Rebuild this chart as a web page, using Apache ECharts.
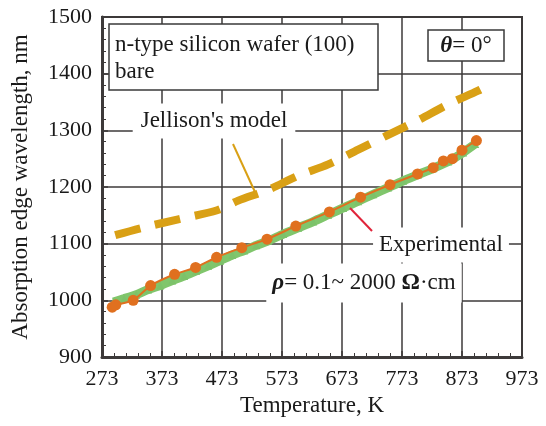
<!DOCTYPE html>
<html>
<head>
<meta charset="utf-8">
<script src="https://cdn.jsdelivr.net/npm/echarts@6/dist/echarts.min.js"></script>
<style>
  html, body { margin: 0; padding: 0; background: #fff; }
  #chart { width: 546px; height: 426px; }
</style>
</head>
<body>
<div id="chart"></div>
<script>
// Temperature axis runs 273 K .. 973 K; plotted as offset from 273 K so ticks land on 273, 373, ...
const T0 = 273;
const xTickLabels = ['273', '373', '473', '573', '673', '773', '873', '973'];
const yTickLabels = ['900', '1000', '1100', '1200', '1300', '1400', '1500'];

// Jellison's model: absorption edge wavelength (nm) vs temperature (K)
const modelTemp = [295, 340, 400, 465, 500, 550, 600, 650, 700, 750, 800, 850, 900, 918];
const modelWave = [1115, 1128, 1143, 1159, 1176, 1195, 1220, 1240, 1266, 1292, 1318, 1346, 1370, 1380];

// Experimental, orange circles
const expTempA = [290, 296, 325, 354, 394, 429, 464, 506, 548, 596, 652, 704, 753, 799, 825, 842, 857, 873, 897];
const expWaveA = [988, 992, 1000, 1026, 1046, 1058, 1076, 1093, 1108, 1131, 1156, 1182, 1204, 1223, 1234, 1246, 1250, 1265, 1282];

// Experimental, green triangles
const expTempB = [292, 310, 330, 350, 370, 390, 410, 430, 450, 470, 490, 510, 530, 550, 575, 600, 625, 650, 675, 700, 725, 750, 775, 800, 825, 850, 875, 895];
const expWaveB = [997, 1003, 1010, 1019, 1026, 1035, 1043, 1052, 1061, 1070, 1080, 1088, 1097, 1105, 1117, 1128, 1139, 1151, 1163, 1175, 1187, 1199, 1211, 1222, 1233, 1245, 1261, 1276];

const pair = (ts, vs) => ts.map((t, i) => [t - T0, vs[i]]);

const serif = '"Liberation Serif", "DejaVu Serif", serif';
const ink = '#1a1a1a';
const gridColor = '#3d3a3a';

const chart = echarts.init(document.getElementById('chart'), null, { renderer: 'canvas' });

chart.setOption({
  animation: false,
  backgroundColor: '#ffffff',
  grid: {
    left: 102, right: 24, top: 17, bottom: 69,
    show: true, borderColor: gridColor, borderWidth: 2, backgroundColor: 'transparent'
  },
  xAxis: {
    type: 'value', min: 0, max: 700, interval: 100,
    name: 'Temperature, K', nameLocation: 'middle', nameGap: 34,
    nameTextStyle: { fontFamily: serif, fontSize: 23, color: ink },
    axisLine: { show: true, lineStyle: { color: gridColor, width: 3 } },
    axisTick: { show: true, inside: true, length: 6, lineStyle: { color: gridColor, width: 1.5 } },
    minorTick: { show: true, splitNumber: 5, length: 4, lineStyle: { color: gridColor, width: 1 } },
    axisLabel: {
      fontFamily: serif, fontSize: 22, color: ink, margin: 11,
      formatter: v => xTickLabels[Math.round(v / 100)]
    },
    splitLine: { show: true, lineStyle: { color: gridColor, width: 1.5 } }
  },
  yAxis: {
    type: 'value', min: 900, max: 1500, interval: 100,
    name: 'Absorption edge wavelength, nm', nameLocation: 'middle', nameGap: 70,
    nameTextStyle: { fontFamily: serif, fontSize: 23, color: ink },
    axisLine: { show: true, lineStyle: { color: gridColor, width: 3 } },
    axisTick: { show: true, inside: true, length: 6, lineStyle: { color: gridColor, width: 1.5 } },
    minorTick: { show: true, splitNumber: 5, length: 4, lineStyle: { color: gridColor, width: 1 } },
    axisLabel: {
      fontFamily: serif, fontSize: 22, color: ink, margin: 10,
      formatter: v => yTickLabels[Math.round((v - 900) / 100)]
    },
    splitLine: { show: true, lineStyle: { color: gridColor, width: 1.5 } }
  },
  series: [
    {
      name: "Jellison's model", type: 'line', data: pair(modelTemp, modelWave),
      smooth: 0.3, showSymbol: false, z: 3,
      lineStyle: { color: '#d9a015', width: 8, type: [26, 15], cap: 'butt' }
    },
    {
      name: 'Experimental B', type: 'line', data: pair(expTempB, expWaveB),
      smooth: 0.2, symbol: 'triangle', symbolSize: 8, z: 4,
      itemStyle: { color: '#7cc26a' },
      lineStyle: { color: '#80c66c', width: 9 }
    },
    {
      name: 'Experimental A', type: 'line', data: pair(expTempA, expWaveA),
      smooth: 0.2, symbol: 'circle', symbolSize: 11, z: 5,
      itemStyle: { color: '#e0701f' },
      lineStyle: { color: '#e0701f', width: 2 }
    }
  ],
  graphic: [
    { type: 'rect', z: 50, shape: { x: 109, y: 24, width: 269, height: 66 },
      style: { fill: '#fff', stroke: '#3a3a3a', lineWidth: 1.5 } },
    { type: 'text', z: 51, x: 115, y: 45,
      style: { text: 'n-type silicon wafer (100)', font: '23px ' + serif, fill: ink, verticalAlign: 'middle' } },
    { type: 'text', z: 51, x: 115, y: 72,
      style: { text: 'bare', font: '23px ' + serif, fill: ink, verticalAlign: 'middle' } },

    { type: 'rect', z: 50, shape: { x: 428, y: 30, width: 76, height: 31 },
      style: { fill: '#fff', stroke: '#3a3a3a', lineWidth: 1.5 } },
    { type: 'text', z: 51, x: 466, y: 46,
      style: {
        text: '{g|θ}= 0°', align: 'center', verticalAlign: 'middle',
        font: '23px ' + serif, fill: ink,
        rich: { g: { font: 'italic bold 23px ' + serif, fill: ink } }
      } },

    { type: 'text', z: 51, x: 214, y: 121,
      style: {
        text: "Jellison's model", align: 'center', verticalAlign: 'middle',
        font: '23px ' + serif, fill: ink, backgroundColor: '#fff', padding: [6, 8, 6, 8]
      } },
    { type: 'line', z: 52, shape: { x1: 233, y1: 144, x2: 255, y2: 192 },
      style: { stroke: '#d9a015', lineWidth: 2 } },

    { type: 'text', z: 51, x: 441, y: 245,
      style: {
        text: 'Experimental', align: 'center', verticalAlign: 'middle',
        font: '23px ' + serif, fill: ink, backgroundColor: '#fff', padding: [6, 6, 6, 6]
      } },
    { type: 'line', z: 52, shape: { x1: 350, y1: 208, x2: 372, y2: 231 },
      style: { stroke: '#e0243a', lineWidth: 2 } },

    { type: 'text', z: 51, x: 364, y: 283,
      style: {
        text: '{g|ρ}= 0.1~ 2000 {o|Ω}·cm', align: 'center', verticalAlign: 'middle',
        font: '23px ' + serif, fill: ink, backgroundColor: '#fff', padding: [8, 6, 8, 6],
        rich: {
          g: { font: 'italic bold 23px ' + serif, fill: ink },
          o: { font: 'bold 23px ' + serif, fill: ink }
        }
      } }
  ]
});
</script>
</body>
</html>
